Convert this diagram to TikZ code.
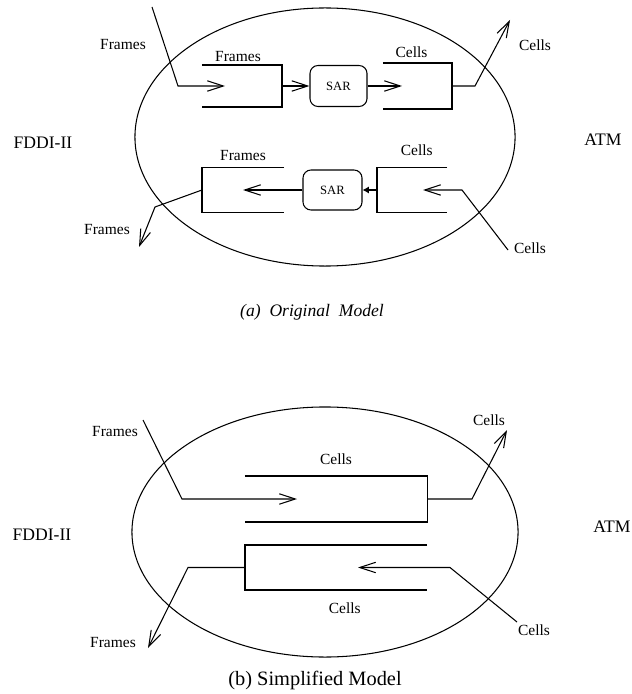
\documentclass[tikz,border=0pt]{standalone}
\usepackage{fontspec}
\setmainfont{Liberation Serif}
\usetikzlibrary{arrows.meta,positioning,shapes.geometric}

\begin{document}
\begin{tikzpicture}[x=0.025cm, y=-0.025cm, line width=0.75pt,
	arr/.style={-{Straight Barb[length=4mm,width=2.6mm]}},
	shortarr/.style={-{Latex[length=1.6mm,width=1.8mm]}},
	lbl/.style={font=\fontsize{11}{13}\selectfont, inner sep=0pt},
	side/.style={font=\fontsize{12.5}{15}\selectfont, inner sep=0pt},
	buf/.style={inner sep=0pt, outer sep=0pt},
	sar/.style={draw, rounded corners=2mm, inner sep=0pt, font=\fontsize{9}{10}\selectfont},
	cloud/.style={draw, ellipse, inner sep=0pt}]
	\useasboundingbox (0,0) rectangle (631,694);
	% (a) original model
	\node[cloud, minimum width=9.5cm, minimum height=6.45cm] (ella) at (325,137) {};
	\node[buf, minimum width=2cm, minimum height=1.05cm] (fin) at (242,86) {};
	\node[sar, minimum width=1.425cm, minimum height=1.025cm] (sar1) at (338.5,86) {\raisebox{-1.5pt}{SAR}};
	\node[buf, minimum width=1.725cm, minimum height=1.15cm] (cout) at (417.5,86) {};
	\node[buf, minimum width=2.05cm, minimum height=1.125cm] (fout) at (243,190) {};
	\node[sar, minimum width=1.475cm, minimum height=1cm] (sar2) at (332.5,190) {\raisebox{-1.5pt}{SAR}};
	\node[buf, minimum width=1.75cm, minimum height=1.125cm] (cin) at (412,190) {};
	\draw (fin.north west) -- (fin.north east) -- (fin.south east) -- (fin.south west);
	\draw (cout.north west) -- (cout.north east) -- (cout.south east) -- (cout.south west);
	\draw (fout.north east) -- (fout.north west) -- (fout.south west) -- (fout.south east);
	\draw (cin.north east) -- (cin.north west) -- (cin.south west) -- (cin.south east);
	\coordinate (fa) at (152,7);
	\coordinate (fab) at (178,86);
	\coordinate (fat) at (225,86);
	\coordinate (cat) at (402,86);
	\coordinate (cab) at (475,86);
	\coordinate (ca) at (510,20);
	\coordinate (cb) at (508,250);
	\coordinate (cbb) at (462,190);
	\coordinate (cbt) at (423,190);
	\coordinate (fot) at (243,190);
	\coordinate (fbb) at (155,207);
	\coordinate (fb) at (139,247);
	\draw[arr] (fa) -- (fab) -- (fat);
	\draw[arr] (fin.east) -- (sar1.west);
	\draw[arr] (sar1.east) -- (cat);
	\draw[arr] (cout.east) -- (cab) -- (ca);
	\draw[arr] (cb) -- (cbb) -- (cbt);
	\draw[shortarr] (cin.west) -- (sar2.east);
	\draw[arr] (sar2.west) -- (fot);
	\draw[arr] (fout.west) -- (fbb) -- (fb);
	\node[lbl, above=0.8mm of fin, xshift=-1mm] (lfin) {Frames};
	\node[lbl, above=1.2mm of cout, xshift=-1.5mm] (lcout) {Cells};
	\node[lbl, above=1.6mm of fout] (lfout) {Frames};
	\node[lbl, above=2.8mm of cin, xshift=1.2mm] (lcin) {Cells};
	\node[lbl] (lfa) at (123,45) {Frames};
	\node[lbl] (lca) at (535,45) {Cells};
	\node[lbl] (lcb) at (530,248) {Cells};
	\node[lbl] (lfb) at (107,230) {Frames};
	\node[side] (fddia) at (43,143) {FDDI-II};
	\node[side] (atma) at (603,140) {ATM};
	\node[font=\fontsize{12.5}{15}\selectfont\itshape, inner sep=0pt] (capa) at (312,312) {(a)\ \ Original\ \ Model};
	% (b) simplified model
	\node[cloud, minimum width=9.65cm, minimum height=6.25cm] (ellb) at (325,532) {};
	\node[buf, minimum width=4.55cm, minimum height=1.15cm] (bcout) at (336,499) {};
	\node[buf, minimum width=4.55cm, minimum height=1.125cm] (bcin) at (336,567.5) {};
	\draw (bcout.north west) -- (bcout.north east) -- (bcout.south east) -- (bcout.south west);
	\draw (bcin.north east) -- (bcin.north west) -- (bcin.south west) -- (bcin.south east);
	\coordinate (bfa) at (143,420);
	\coordinate (bfab) at (182,499);
	\coordinate (bfat) at (297,499);
	\coordinate (bcab) at (472,499);
	\coordinate (bca) at (507,430);
	\coordinate (bcb) at (517,622);
	\coordinate (bcbb) at (450,567.5);
	\coordinate (bcbt) at (358,567.5);
	\coordinate (bfbb) at (188,567.5);
	\coordinate (bfb) at (148,648);
	\draw[arr] (bfa) -- (bfab) -- (bfat);
	\draw[arr] (bcout.east) -- (bcab) -- (bca);
	\draw[arr] (bcb) -- (bcbb) -- (bcbt);
	\draw[arr] (bcin.west) -- (bfbb) -- (bfb);
	\node[lbl, above=2.6mm of bcout] (lbcout) {Cells};
	\node[lbl, below=3mm of bcin, xshift=2.2mm] (lbcin) {Cells};
	\node[lbl] (lbfa) at (115,432) {Frames};
	\node[lbl] (lbca) at (489,420) {Cells};
	\node[lbl] (lbcb) at (534,630) {Cells};
	\node[lbl] (lbfb) at (113,643) {Frames};
	\node[side] (fddib) at (42,535) {FDDI-II};
	\node[side] (atmb) at (612,527) {ATM};
	\node[font=\fontsize{14.5}{17}\selectfont, inner sep=0pt] (capb) at (315,680) {(b) Simplified Model};
\end{tikzpicture}
\end{document}
